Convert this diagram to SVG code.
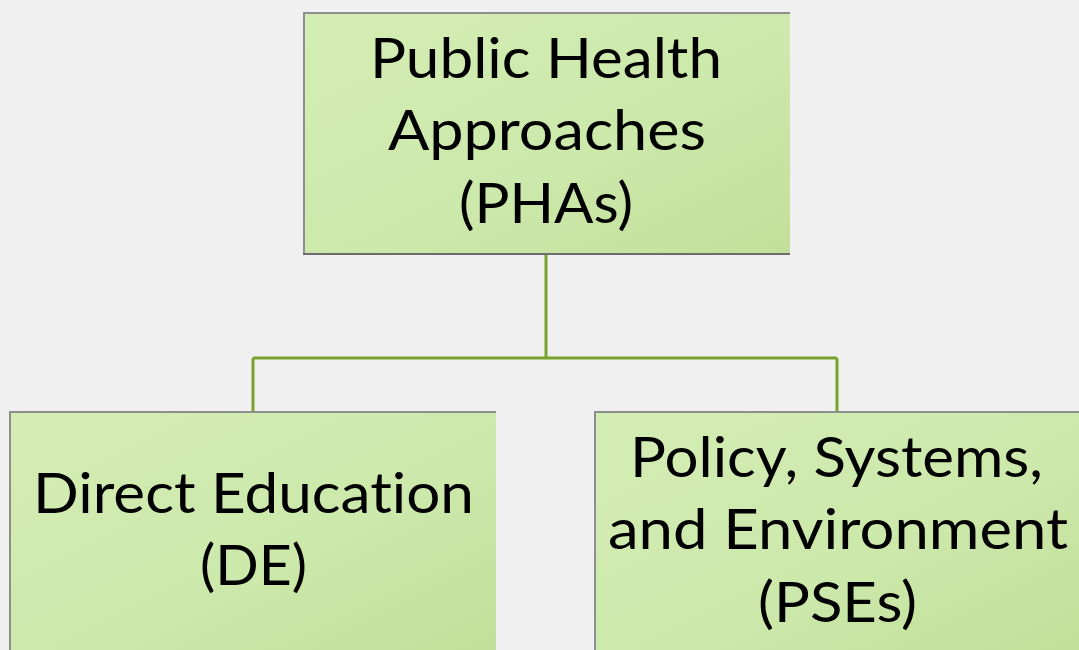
<svg xmlns="http://www.w3.org/2000/svg" width="1079" height="650" viewBox="0 0 1079 650">
<defs>
<linearGradient id="g" x1="0" y1="0" x2="1" y2="1">
<stop offset="0" stop-color="#d4edb4"/>
<stop offset="0.6" stop-color="#cce8aa"/>
<stop offset="1" stop-color="#c2df99"/>
</linearGradient>
</defs>
<style>
.box{fill:url(#g)}
.edge{stroke:#8e8e8e;stroke-width:2;fill:none}
.bot{stroke:#6c6c6c;stroke-width:2;fill:none}
.lbl{font-family:Lato,"Open Sans","Liberation Sans",sans-serif;font-size:57px;fill:#000;font-variant-ligatures:none}
.conn{stroke:#77a22d;stroke-width:3;fill:none}
</style>
<rect width="1079" height="650" fill="#f0f0f0"/>
<g id="connectors">
<path class="conn" d="M546,255 V358 M253,358 H837 M253,358 V411 M837,358 V411"/>
</g>
<g id="node-pha">
<rect class="box" x="303" y="12" width="487" height="243"/>
<path class="edge" d="M790,13 H304 V254"/>
<path class="bot" d="M303,254 H790"/>
<text class="lbl" x="370" y="78" textLength="352" lengthAdjust="spacingAndGlyphs">Public Health</text>
<text class="lbl" x="388" y="150" textLength="318" lengthAdjust="spacingAndGlyphs">Approaches</text>
<text class="lbl" x="459" y="223" textLength="174" lengthAdjust="spacingAndGlyphs">(PHAs)</text>
</g>
<g id="node-de">
<rect class="box" x="9" y="411" width="487" height="243"/>
<path class="edge" d="M496,412 H10 V654"/>
<text class="lbl" x="33" y="513" textLength="441" lengthAdjust="spacingAndGlyphs">Direct Education</text>
<text class="lbl" x="200" y="585" textLength="107" lengthAdjust="spacingAndGlyphs">(DE)</text>
</g>
<g id="node-pse">
<rect class="box" x="594" y="411" width="487" height="243"/>
<path class="edge" d="M1081,412 H595 V654"/>
<text class="lbl" x="630" y="477" textLength="413" lengthAdjust="spacingAndGlyphs">Policy, Systems,</text>
<text class="lbl" x="608" y="549" textLength="460" lengthAdjust="spacingAndGlyphs">and Environment</text>
<text class="lbl" x="758" y="622" textLength="159" lengthAdjust="spacingAndGlyphs">(PSEs)</text>
</g>
</svg>
